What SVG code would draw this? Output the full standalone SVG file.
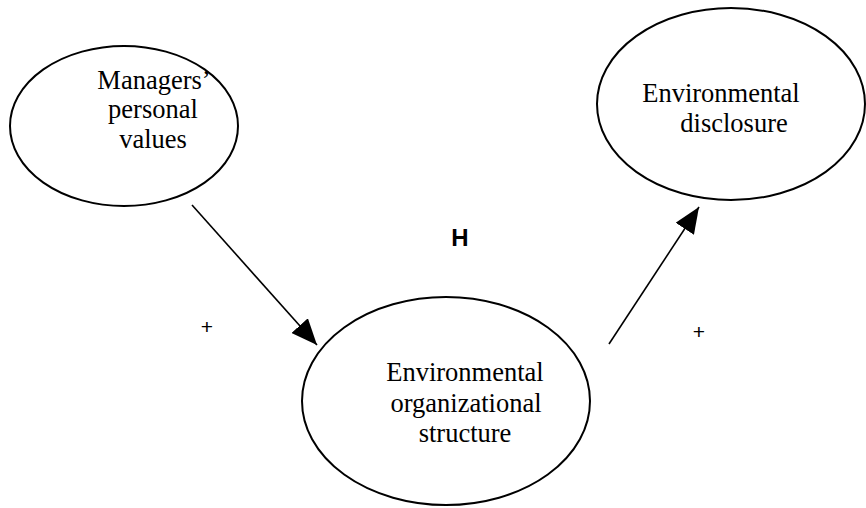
<svg xmlns="http://www.w3.org/2000/svg" width="866" height="508" viewBox="0 0 866 508">
  <style>
    .node { fill: #ffffff; stroke: #000000; stroke-width: 2; }
    .conn { stroke: #000000; stroke-width: 1.6; fill: none; }
  </style>
  <defs>
    <marker id="arrow" viewBox="0 0 26 22" refX="26" refY="11" markerWidth="26" markerHeight="22" markerUnits="userSpaceOnUse" orient="auto">
      <path d="M0,0 L26,11 L0,22 z" fill="#000000"/>
    </marker>
  </defs>
  <rect width="866" height="508" fill="#ffffff"/>
  <g id="connectors">
    <line class="conn" x1="192" y1="205" x2="317" y2="345" marker-end="url(#arrow)"/>
    <line class="conn" x1="609" y1="344" x2="699" y2="207" marker-end="url(#arrow)"/>
  </g>
  <g id="managers-values" font-family="Liberation Serif, serif" font-size="26.5" fill="#000000" text-anchor="middle">
    <ellipse class="node" cx="124" cy="126" rx="114" ry="80"/>
    <text x="154" y="89">Managers’</text>
    <text x="153" y="118">personal</text>
    <text x="153" y="148">values</text>
  </g>
  <g id="environmental-disclosure" font-family="Liberation Serif, serif" font-size="26.5" fill="#000000" text-anchor="middle">
    <ellipse class="node" cx="731" cy="104" rx="134" ry="96"/>
    <text x="721" y="102">Environmental</text>
    <text x="734" y="132">disclosure</text>
  </g>
  <g id="environmental-structure" font-family="Liberation Serif, serif" font-size="26.5" fill="#000000" text-anchor="middle">
    <ellipse class="node" cx="446" cy="401" rx="144" ry="104"/>
    <text x="465" y="381">Environmental</text>
    <text x="466" y="412">organizational</text>
    <text x="465" y="442">structure</text>
  </g>
  <g id="labels" font-family="Liberation Sans, sans-serif" fill="#000000" text-anchor="middle">
    <text x="207" y="334" font-size="21">+</text>
    <text x="699" y="339" font-size="21">+</text>
    <text x="460" y="246" font-size="24" font-weight="bold">H</text>
  </g>
</svg>
